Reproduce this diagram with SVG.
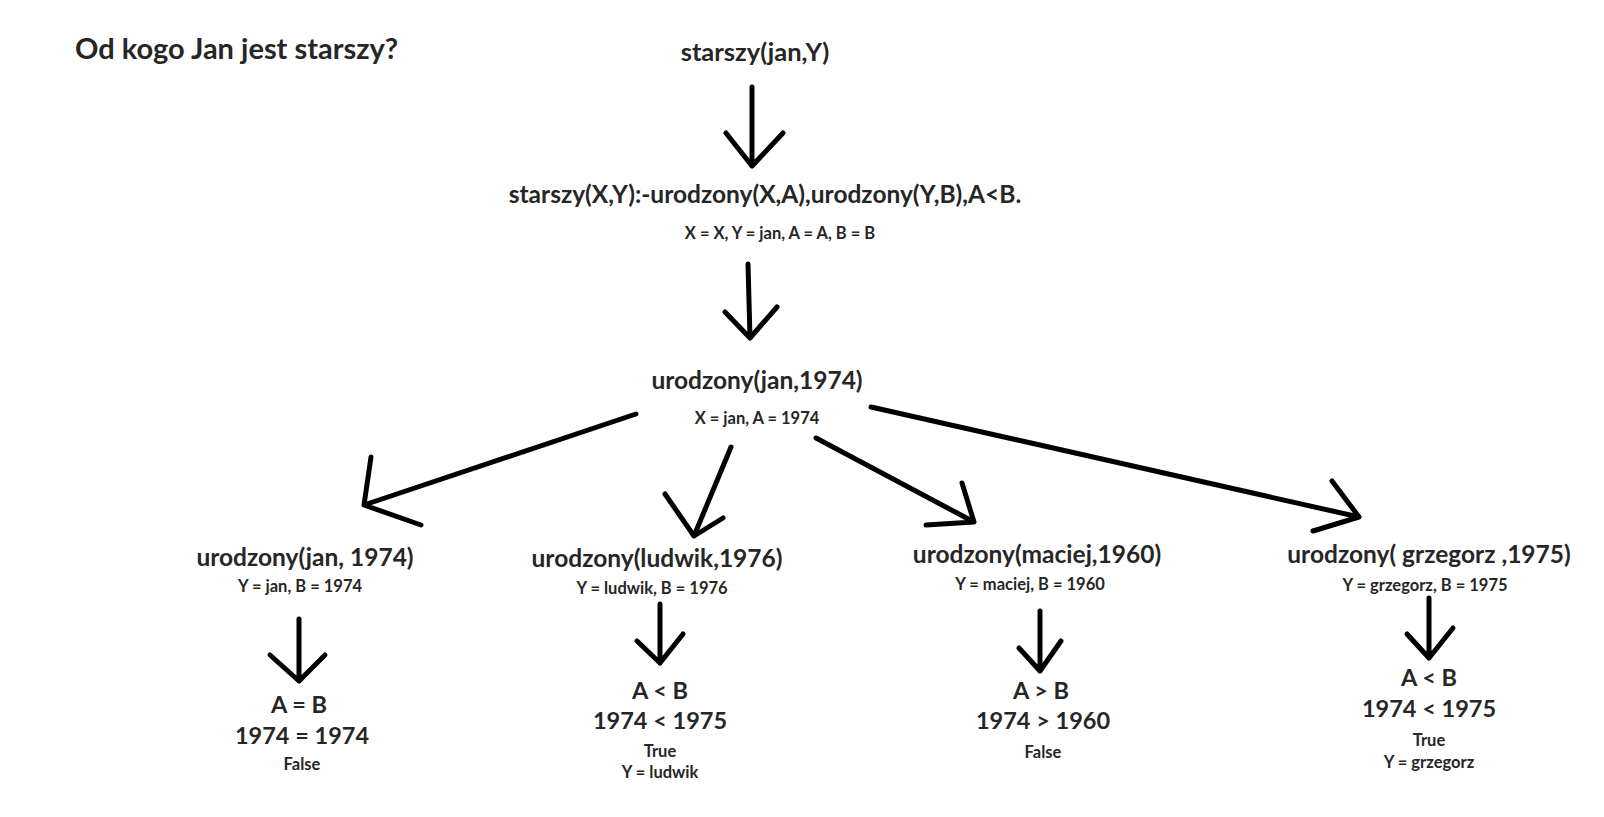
<svg xmlns="http://www.w3.org/2000/svg" width="1604" height="817" viewBox="0 0 1604 817">
<style>
text{font-family:Lato,"Open Sans","Liberation Sans",sans-serif;font-weight:bold;fill:#262626;text-anchor:middle}
.t{font-size:29px;text-anchor:start}
.h{font-size:24.5px}
.s{font-size:16.5px}
.r{font-size:23.5px}
.c path{fill:none;stroke:#000;stroke-width:5;stroke-linecap:round;stroke-linejoin:round}
</style>
<rect width="1604" height="817" fill="#fff"/>
<g id="title"><text class="t" x="75" y="59">Od kogo Jan jest starszy?</text></g>
<g id="n_root"><text class="h" x="755" y="61" style="font-size:25.5px">starszy(jan,Y)</text></g>
<g id="n_rule"><text class="h" x="765" y="203">starszy(X,Y):-urodzony(X,A),urodzony(Y,B),A&lt;B.</text><text class="s" x="780" y="239">X = X, Y = jan, A = A, B = B</text></g>
<g id="n_jan1974"><text class="h" x="757" y="389">urodzony(jan,1974)</text><text class="s" x="757" y="424">X = jan, A = 1974</text></g>
<g id="n_jan"><text class="h" x="305" y="566">urodzony(jan, 1974)</text><text class="s" x="300" y="592">Y = jan, B = 1974</text></g>
<g id="n_ludwik"><text class="h" x="657" y="567">urodzony(ludwik,1976)</text><text class="s" x="652" y="594">Y = ludwik, B = 1976</text></g>
<g id="n_maciej"><text class="h" x="1037" y="563">urodzony(maciej,1960)</text><text class="s" x="1030" y="590">Y = maciej, B = 1960</text></g>
<g id="n_grzegorz"><text class="h" x="1429" y="563">urodzony( grzegorz ,1975)</text><text class="s" x="1425" y="591">Y = grzegorz, B = 1975</text></g>
<g id="r_jan"><text class="r" x="299" y="713">A = B</text><text class="r" x="302" y="744">1974 = 1974</text><text class="s" x="302" y="770">False</text></g>
<g id="r_ludwik"><text class="r" x="660" y="699">A &lt; B</text><text class="r" x="660" y="729">1974 &lt; 1975</text><text class="s" x="660" y="757">True</text><text class="s" x="660" y="778">Y = ludwik</text></g>
<g id="r_maciej"><text class="r" x="1041" y="699">A &gt; B</text><text class="r" x="1043" y="729">1974 &gt; 1960</text><text class="s" x="1043" y="758">False</text></g>
<g id="r_grzegorz"><text class="r" x="1429" y="686">A &lt; B</text><text class="r" x="1429" y="717">1974 &lt; 1975</text><text class="s" x="1429" y="746">True</text><text class="s" x="1429" y="768">Y = grzegorz</text></g>
<g id="connectors" class="c">
<path d="M752 87V166M726 133L752 166L783 133"/>
<path d="M748 264L750 338M725 312L750 338L777 307"/>
<path d="M636 414L364 505M371 457L364 505L421 525"/>
<path d="M731 447L694 536M665 494L694 536L723 518"/>
<path d="M816 438L974 522M962 483L974 522L926 525"/>
<path d="M871 407L1359 517M1332 481L1359 517L1313 531"/>
<path d="M299 619V681M270 655L299 681L325 655"/>
<path d="M660 604V663M637 641L660 663L683 634"/>
<path d="M1040 611V671M1019 648L1040 671L1061 641"/>
<path d="M1429 598V658M1407 634L1429 658L1453 628"/>
</g>
</svg>
